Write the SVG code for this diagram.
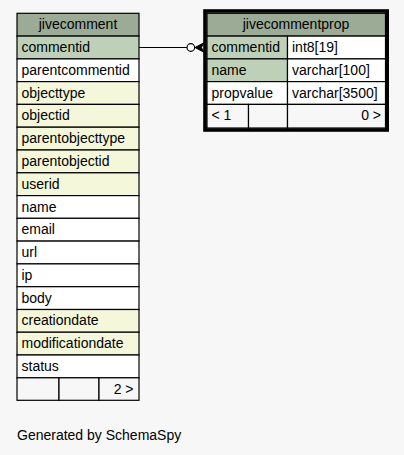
<svg xmlns="http://www.w3.org/2000/svg" width="404" height="455" viewBox="0 0 404 455">
<style>
text{font-family:"Liberation Sans",Arial,Helvetica,sans-serif;font-size:14px;fill:#000}
.c{stroke:#000;stroke-width:1.2}
.h{fill:#9bab96}
.pk{fill:#bed1b8}
.ix{fill:#f4f7da}
.w{fill:#ffffff}
.f{fill:#f7f7f7}
.mid{text-anchor:middle}
.end{text-anchor:end}
</style>
<rect width="404" height="455" fill="#f7f7f7"/>
<g id="connectors">
<line x1="139" y1="47.5" x2="187" y2="47.5" stroke="#000" stroke-width="1.2"/>
<circle cx="190.8" cy="47.5" r="3.8" fill="#fff" stroke="#000" stroke-width="1.2"/>
<polygon points="195,47.5 203.5,43 201.5,47.5 203.5,52" fill="#000" stroke="#000" stroke-width="1"/>
</g>
<g id="jivecomment">
<rect class="c h" x="17" y="13.3" width="122" height="22.8"/>
<text class="mid" x="78" y="28.5">jivecomment</text>
<rect class="c pk" x="17" y="36.1" width="122" height="22.8"/><text x="21.5" y="52">commentid</text>
<rect class="c w" x="17" y="58.9" width="122" height="22.8"/><text x="21.5" y="74.8">parentcommentid</text>
<rect class="c ix" x="17" y="81.6" width="122" height="22.8"/><text x="21.5" y="97.5">objecttype</text>
<rect class="c ix" x="17" y="104.4" width="122" height="22.8"/><text x="21.5" y="120.3">objectid</text>
<rect class="c ix" x="17" y="127.2" width="122" height="22.8"/><text x="21.5" y="143.1">parentobjecttype</text>
<rect class="c ix" x="17" y="150" width="122" height="22.8"/><text x="21.5" y="165.9">parentobjectid</text>
<rect class="c ix" x="17" y="172.8" width="122" height="22.8"/><text x="21.5" y="188.7">userid</text>
<rect class="c w" x="17" y="195.6" width="122" height="22.8"/><text x="21.5" y="211.5">name</text>
<rect class="c w" x="17" y="218.3" width="122" height="22.8"/><text x="21.5" y="234.2">email</text>
<rect class="c w" x="17" y="241.1" width="122" height="22.8"/><text x="21.5" y="257">url</text>
<rect class="c w" x="17" y="263.9" width="122" height="22.8"/><text x="21.5" y="279.8">ip</text>
<rect class="c w" x="17" y="286.7" width="122" height="22.8"/><text x="21.5" y="302.6">body</text>
<rect class="c ix" x="17" y="309.5" width="122" height="22.8"/><text x="21.5" y="325.4">creationdate</text>
<rect class="c ix" x="17" y="332.2" width="122" height="22.8"/><text x="21.5" y="348.1">modificationdate</text>
<rect class="c w" x="17" y="355" width="122" height="22.8"/><text x="21.5" y="370.9">status</text>
<rect class="c f" x="17" y="377.8" width="42" height="22.5"/>
<rect class="c f" x="59" y="377.8" width="40" height="22.5"/>
<rect class="c f" x="99" y="377.8" width="40" height="22.5"/>
<text class="end" x="133.5" y="393.5">2 &gt;</text>
</g>
<g id="jivecommentprop">
<rect class="c h" x="207" y="13.3" width="178.5" height="22.8"/>
<text class="mid" x="296" y="28.5">jivecommentprop</text>
<rect class="c pk" x="207" y="36.1" width="80.5" height="22.8"/><text x="211.5" y="52">commentid</text>
<rect class="c w" x="287.5" y="36.1" width="98" height="22.8"/><text x="292" y="52">int8[19]</text>
<rect class="c pk" x="207" y="58.9" width="80.5" height="22.8"/><text x="211.5" y="74.8">name</text>
<rect class="c w" x="287.5" y="58.9" width="98" height="22.8"/><text x="292" y="74.8">varchar[100]</text>
<rect class="c w" x="207" y="81.6" width="80.5" height="22.8"/><text x="211.5" y="97.5">propvalue</text>
<rect class="c w" x="287.5" y="81.6" width="98" height="22.8"/><text x="292" y="97.5">varchar[3500]</text>
<rect class="c f" x="207" y="104.4" width="41.5" height="23.6"/>
<rect class="c f" x="248.5" y="104.4" width="39" height="23.6"/>
<rect class="c f" x="287.5" y="104.4" width="98" height="23.6"/>
<text x="211.5" y="120.3">&lt; 1</text>
<text class="end" x="381" y="120.3">0 &gt;</text>
<rect x="205" y="11" width="182.2" height="119" fill="none" stroke="#000" stroke-width="3.6"/>
</g>
<text x="17" y="440">Generated by SchemaSpy</text>
</svg>
